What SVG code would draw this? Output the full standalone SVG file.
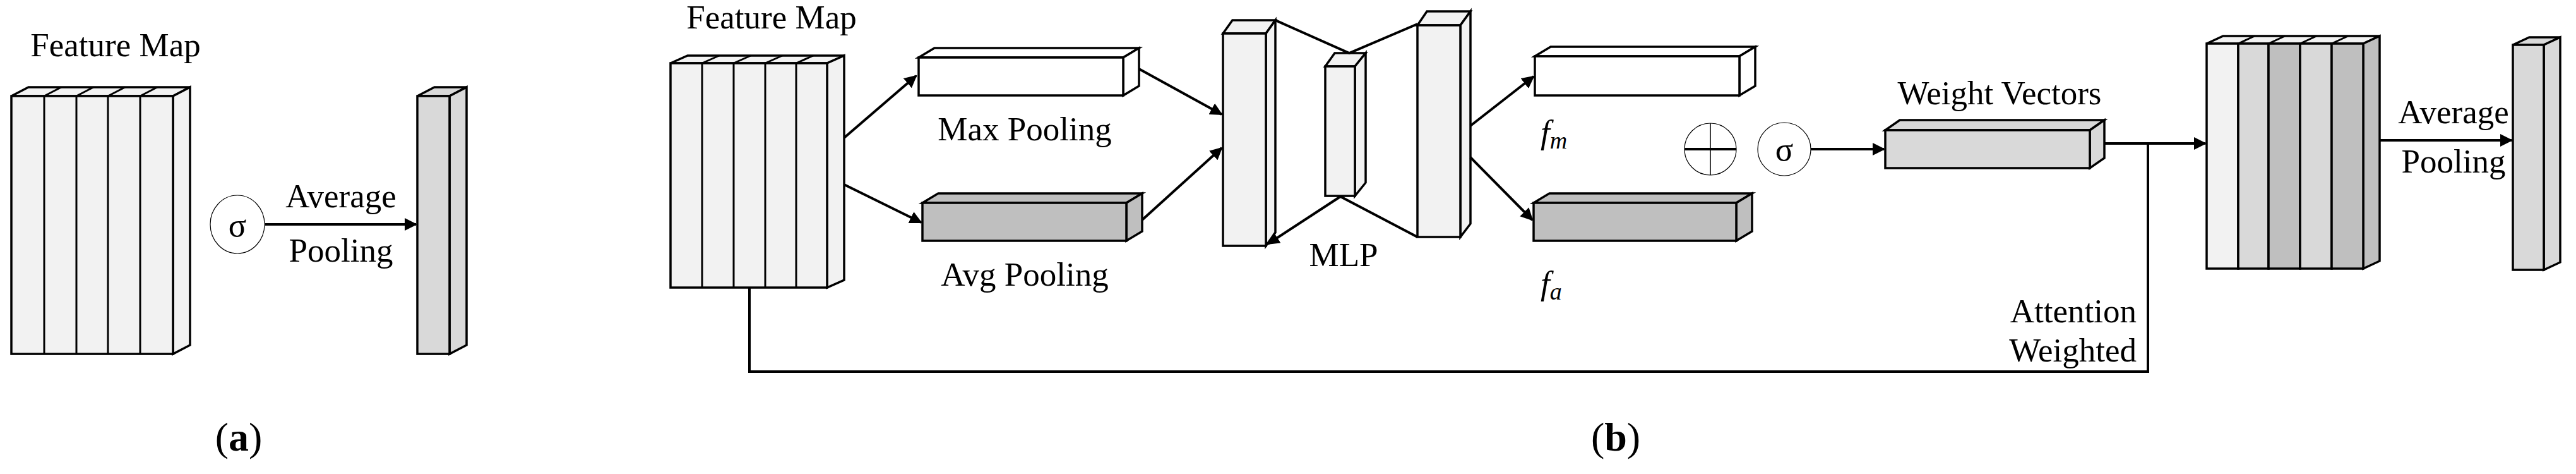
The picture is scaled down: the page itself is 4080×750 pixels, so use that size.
<svg xmlns="http://www.w3.org/2000/svg" width="4080" height="750" viewBox="0 0 4080 750">
<style>
text{font-family:"Liberation Serif","Times New Roman",serif;font-size:53px;fill:#000}
.c{text-anchor:middle}
.s{stroke:#000;stroke-width:3.5;stroke-linejoin:miter}
.t{stroke:#000;stroke-width:1.2;fill:none}
.w{fill:#fff}.l{fill:#f2f2f2}.m{fill:#d9d9d9}.d{fill:#bfbfbf}
.ln{stroke:#000;stroke-width:4;fill:none}
.ar{stroke:#000;stroke-width:4;fill:none;marker-end:url(#ah)}
</style>
<defs>
<marker id="ah" viewBox="0 0 10 10" refX="9" refY="5" markerWidth="5" markerHeight="5" orient="auto" markerUnits="strokeWidth"><path d="M0,0L10,5L0,10z" fill="#000"/></marker>
</defs>
<rect width="4080" height="750" fill="#fff"/>

<g id="a-feature-map">
<text x="183" y="89" class="c">Feature Map</text>
<polygon class="s l" points="18,152 45,138 301,138 274,152"/>
<polygon class="s l" points="274,152 301,138 301,546 274,560"/>
<rect class="s l" x="18" y="152" width="256" height="408"/>
<path class="t" style="stroke-width:3" d="M70,152V560M121,152V560M171,152V560M222,152V560M70,152L97,138M121,152L148,138M171,152L198,138M222,152L249,138"/>
</g>
<g id="a-sigma">
<ellipse cx="376" cy="355" rx="43" ry="46" class="t" fill="#fff"/>
<text x="376" y="374" class="c">σ</text>
</g>
<g id="a-pooled">
<polygon class="s m" points="661,152 688,138 739,138 712,152"/>
<polygon class="s m" points="712,152 739,138 739,546 712,560"/>
<rect class="s m" x="661" y="152" width="51" height="408"/>
</g>
<text x="540" y="328" class="c">Average</text>
<text x="540" y="414" class="c">Pooling</text>
<text x="378" y="713" class="c" style="font-size:64px">(<tspan font-weight="bold">a</tspan>)</text>

<g id="b-feature-map">
<text x="1222" y="45" class="c">Feature Map</text>
<polygon class="s l" points="1062,100 1089,88 1337,88 1310,100"/>
<polygon class="s l" points="1310,100 1337,88 1337,443 1310,455"/>
<rect class="s l" x="1062" y="100" width="248" height="355"/>
<path class="t" style="stroke-width:3" d="M1112,100V455M1162,100V455M1212,100V455M1261,100V455M1112,100L1139,88M1162,100L1189,88M1212,100L1239,88M1261,100L1288,88"/>
</g>
<g id="max-pool">
<polygon class="s w" points="1455,91 1480,76 1804,76 1779,91"/>
<polygon class="s w" points="1779,91 1804,76 1804,136 1779,151"/>
<rect class="s w" x="1455" y="91" width="324" height="60"/>
<text x="1623" y="222" class="c">Max Pooling</text>
</g>
<g id="avg-pool">
<polygon class="s d" points="1461,321 1486,306 1809,306 1784,321"/>
<polygon class="s d" points="1784,321 1809,306 1809,366 1784,381"/>
<rect class="s d" x="1461" y="321" width="323" height="60"/>
<text x="1623" y="452" class="c">Avg Pooling</text>
</g>
<g id="mlp">
<polygon class="s l" points="1937,53 1952,32 2020,32 2005,53"/>
<polygon class="s l" points="2005,53 2020,32 2020,368 2005,389"/>
<rect class="s l" x="1937" y="53" width="68" height="336"/>
<polygon class="s l" points="2099,105 2114,84 2163,84 2146,105"/>
<polygon class="s l" points="2146,105 2163,84 2163,289 2146,310"/>
<rect class="s l" x="2099" y="105" width="47" height="205"/>
<polygon class="s l" points="2245,40 2260,18 2329,18 2313,40"/>
<polygon class="s l" points="2313,40 2329,18 2329,354 2313,375"/>
<rect class="s l" x="2245" y="40" width="68" height="335"/>
<text x="2128" y="421" class="c">MLP</text>
</g>
<g id="fm">
<polygon class="s w" points="2431,89 2456,74 2780,74 2755,89"/>
<polygon class="s w" points="2755,89 2780,74 2780,136 2755,151"/>
<rect class="s w" x="2431" y="89" width="324" height="62"/>
<text x="2440" y="227" font-style="italic">f<tspan font-size="38" dy="8">m</tspan></text>
</g>
<g id="fa">
<polygon class="s d" points="2429,321 2454,306 2775,306 2750,321"/>
<polygon class="s d" points="2750,321 2775,306 2775,366 2750,381"/>
<rect class="s d" x="2429" y="321" width="321" height="60"/>
<text x="2440" y="466" font-style="italic">f<tspan font-size="38" dy="8">a</tspan></text>
</g>
<g id="oplus">
<circle cx="2709" cy="236" r="41" class="t"/>
<path d="M2668,236H2750" stroke="#000" stroke-width="4"/>
<path d="M2709,195V277" stroke="#000" stroke-width="1.5"/>
</g>
<g id="b-sigma">
<circle cx="2826" cy="236" r="42" class="t"/>
<text x="2826" y="254" class="c">σ</text>
</g>
<g id="weight-vectors">
<text x="3167" y="165" class="c">Weight Vectors</text>
<polygon class="s m" points="2986,206 3009,190 3333,190 3310,206"/>
<polygon class="s m" points="3310,206 3333,190 3333,250 3310,266"/>
<rect class="s m" x="2986" y="206" width="324" height="60"/>
</g>
<g id="weighted-map">
<polygon class="s l" points="3495,69 3521,57 3769,57 3743,69"/>
<polygon class="s d" points="3743,69 3769,57 3769,413 3743,425"/>
<rect class="s l" x="3495" y="69" width="50" height="356"/>
<rect class="s m" x="3545" y="69" width="48" height="356"/>
<rect class="s d" x="3593" y="69" width="50" height="356"/>
<rect class="s m" x="3643" y="69" width="50" height="356"/>
<rect class="s d" x="3693" y="69" width="50" height="356"/>
<path class="t" style="stroke-width:3" d="M3545,69L3571,57M3593,69L3619,57M3643,69L3669,57M3693,69L3719,57"/>
</g>
<g id="final-pooled">
<polygon class="s m" points="3980,71 4006,59 4055,59 4029,71"/>
<polygon class="s m" points="4029,71 4055,59 4055,415 4029,427"/>
<rect class="s m" x="3980" y="71" width="49" height="356"/>
</g>
<text x="3886" y="195" class="c">Average</text>
<text x="3886" y="273" class="c">Pooling</text>
<text x="3384" y="510" text-anchor="end">Attention</text>
<text x="3384" y="572" text-anchor="end">Weighted</text>
<text x="2559" y="713" class="c" style="font-size:64px">(<tspan font-weight="bold">b</tspan>)</text>

<g id="connectors">
<path class="ar" d="M420,355H659"/>
<path class="ar" d="M1337,218L1451,120"/>
<path class="ar" d="M1337,292L1459,352"/>
<path class="ar" d="M1804,109L1935,181"/>
<path class="ar" d="M1809,348L1935,234"/>
<path class="ln" d="M2020,32L2137,84L2245,38"/>
<path class="ar" d="M2123,311L2008,386"/>
<path class="ln" d="M2123,311L2245,375"/>
<path class="ar" d="M2329,199L2429,121"/>
<path class="ar" d="M2329,249L2427,348"/>
<path class="ar" d="M2868,236H2984"/>
<path class="ar" d="M3334,227H3493"/>
<path class="ar" d="M3770,222H3978"/>
<path class="ln" d="M1187,455V588H3402V227"/>
</g>
</svg>
